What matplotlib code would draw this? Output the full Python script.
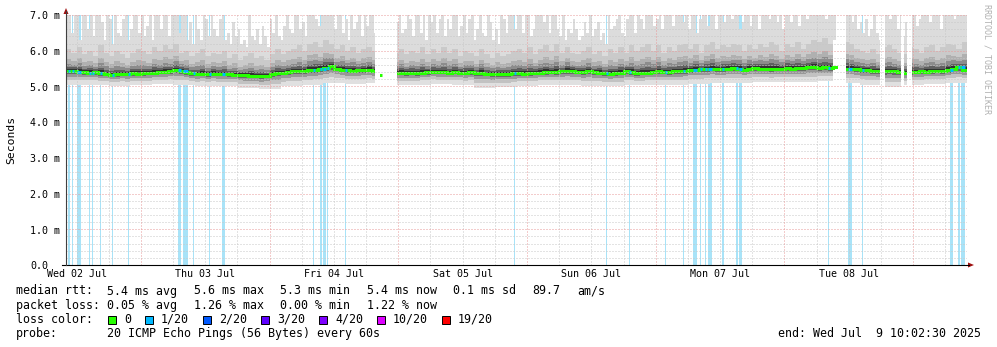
import numpy as np
import matplotlib
matplotlib.use('Agg')
import matplotlib.pyplot as plt
from matplotlib.patches import Rectangle, Polygon
from matplotlib.lines import Line2D
import matplotlib.transforms as mtrans
from datetime import datetime

# ---------------- data ----------------
start = datetime(2025, 7, 2, 10, 2, 30)
span_hours = 168

# hourly median rtt (ms); None = no data
median_rtt = [
    5.42, 5.43, 5.41, 5.40, 5.39, 5.40, 5.37, 5.35, 5.33, 5.34, 5.36, 5.35, 5.37, 5.36,
    5.37, 5.38, 5.39, 5.40, 5.40, 5.42, 5.45, 5.44, 5.40, 5.37, 5.35, 5.36, 5.34, 5.36,
    5.36, 5.35, 5.34, 5.33, 5.32, 5.31, 5.30, 5.29, 5.28, 5.30, 5.34, 5.37, 5.39, 5.40,
    5.42, 5.43, 5.43, 5.46, 5.47, 5.50, 5.52, 5.56, 5.50, 5.47, 5.45, 5.44, 5.45, 5.46,
    5.47, 5.44, 5.33, None, None, 5.38, 5.38, 5.37, 5.38, 5.37, 5.39, 5.40, 5.41, 5.40,
    5.40, 5.39, 5.41, 5.39, 5.38, 5.40, 5.37, 5.38, 5.36, 5.35, 5.34, 5.35, 5.34, 5.37,
    5.37, 5.36, 5.37, 5.38, 5.39, 5.40, 5.41, 5.40, 5.42, 5.44, 5.43, 5.41, 5.40, 5.42,
    5.40, 5.39, 5.37, 5.36, 5.37, 5.39, 5.43, 5.40, 5.37, 5.38, 5.39, 5.41, 5.42, 5.41,
    5.40, 5.42, 5.43, 5.44, 5.46, 5.47, 5.48, 5.49, 5.50, 5.48, 5.49, 5.50, 5.51, 5.50,
    5.47, 5.50, 5.51, 5.50, 5.50, 5.49, 5.50, 5.50, 5.51, 5.50, 5.51, 5.52, 5.53, 5.54,
    5.52, 5.53, 5.52, 5.53, None, 5.50, 5.50, 5.48, 5.47, 5.46, 5.44, 5.43, 5.42, 5.43,
    5.42, 5.40, 5.38, 5.40, 5.41, 5.42, 5.41, 5.43, 5.44, 5.43, 5.46, 5.50, 5.53, 5.47,
]

# bottom of smoke, 4-hour blocks (ms)
smoke_lo = [5.05, 5.05, 5.02, 5.05, 5.08, 5.05, 5.02, 5.00, 4.95, 4.92, 5.00, 5.05, 5.10, 5.08,
            5.10, 5.05, 5.05, 5.08, 5.05, 4.95, 4.98, 5.02, 5.05, 5.05, 5.02, 5.00, 5.05, 5.05,
            5.05, 5.08, 5.10, 5.10, 5.12, 5.12, 5.12, 5.15, 5.10, 5.05, 4.98, 5.05, 5.08, 5.10]
# hourly top of the dense smoke (ms)
smoke_hi = [
    6.05, 5.95, 6.10, 5.90, 6.00, 5.85, 6.15, 5.95, 5.85, 6.00, 5.90, 5.80, 5.95, 6.05,
    6.00, 5.90, 6.10, 6.00, 6.15, 6.05, 6.20, 5.95, 6.00, 5.85, 5.95, 6.05, 5.85, 5.95,
    5.90, 6.00, 5.80, 5.90, 5.75, 5.85, 5.95, 5.80, 5.85, 5.75, 5.90, 6.05, 5.90, 6.00,
    6.05, 6.15, 6.00, 6.20, 6.25, 6.10, 6.30, 6.20, 6.05, 6.15, 6.00, 6.10, 5.95, 6.05,
    6.10, 6.00, 5.90, None, None, 5.95, 6.05, 5.90, 6.00, 5.95, 6.10, 5.90, 6.05, 5.95,
    6.10, 5.95, 6.05, 5.85, 6.00, 5.95, 5.85, 6.05, 5.90, 5.80, 5.95, 5.85, 5.90, 6.00,
    6.05, 5.95, 6.10, 5.90, 6.05, 6.15, 6.00, 6.20, 5.95, 6.10, 5.95, 5.90, 6.00, 6.10,
    5.90, 6.00, 5.85, 6.05, 5.95, 6.10, 5.95, 6.15, 6.00, 6.10, 6.20, 6.00, 6.15, 5.95,
    6.10, 6.00, 6.15, 6.20, 6.05, 6.20, 5.95, 6.15, 6.25, 6.05, 6.15, 6.10, 6.20, 6.15,
    6.00, 6.15, 6.05, 6.20, 6.10, 6.25, 6.15, 6.00, 6.20, 6.10, 6.25, 6.05, 6.20, 6.30,
    6.25, 6.35, 6.20, 6.30, None, 6.25, 6.20, 6.05, 6.00, 5.95, 6.05, 5.90, 6.10, 6.15,
    6.05, 5.95, 5.90, 6.10, 6.05, 5.95, 6.10, 6.15, 6.00, 6.10, 6.20, 6.15, 6.05, 6.25,
]
# highest ping per half hour (ms)
smoke_peak = [
    7.2, 7.2, 6.5, 7.2, 7.2, 6.3, 7.2, 7.2, 6.6, 7.2, 6.4, 7.2, 7.2, 6.8,
    6.3, 7.2, 6.9, 6.2, 7.2, 6.5, 6.4, 6.9, 7.2, 6.3, 6.6, 7.2, 7.2, 6.5,
    7.2, 6.4, 6.7, 7.2, 6.3, 7.2, 7.2, 6.6, 7.2, 7.2, 6.4, 7.2, 7.2, 7.2,
    6.5, 7.2, 7.2, 6.3, 6.8, 6.2, 7.2, 6.6, 6.3, 7.2, 6.9, 6.4, 7.2, 6.6,
    6.4, 6.9, 7.2, 6.3, 6.5, 6.2, 6.8, 6.4, 6.6, 6.2, 6.3, 6.1, 7.2, 6.4,
    6.3, 6.6, 6.2, 6.7, 6.4, 6.1, 6.9, 6.5, 7.2, 6.4, 6.3, 6.7, 7.2, 6.6,
    6.5, 7.2, 7.2, 6.6, 6.8, 6.4, 7.2, 7.2, 7.2, 6.9, 6.7, 7.2, 7.2, 7.2,
    7.2, 7.2, 6.6, 7.2, 7.2, 6.5, 6.9, 6.3, 7.2, 6.6, 6.8, 7.2, 6.4, 7.2,
    6.7, 7.2, 7.2, 6.5, 6.4, 6.4, None, None, None, None, 6.6, 6.8, 7.2, 6.5,
    6.6, 7.2, 6.9, 6.4, 7.2, 7.2, 6.5, 7.2, 6.3, 7.2, 6.8, 7.2, 6.5, 6.9,
    7.2, 6.4, 6.9, 6.6, 7.2, 7.2, 6.4, 6.7, 7.2, 6.5, 6.9, 7.2, 6.3, 6.6,
    7.2, 6.5, 6.4, 7.2, 6.8, 6.3, 6.6, 6.2, 7.2, 6.9, 6.5, 7.2, 7.2, 6.6,
    7.2, 7.2, 6.5, 7.2, 7.2, 6.4, 6.6, 7.2, 7.2, 7.2, 6.8, 7.2, 6.5, 7.2,
    7.2, 6.6, 6.4, 7.2, 6.3, 6.6, 6.5, 6.9, 6.6, 6.3, 6.4, 6.8, 6.5, 7.2,
    6.4, 6.6, 6.8, 6.3, 6.5, 6.2, 7.2, 6.6, 6.7, 6.9, 7.2, 6.5, 6.4, 6.9,
    7.2, 7.2, 6.5, 7.2, 6.9, 6.6, 7.2, 7.2, 7.2, 6.7, 6.9, 7.2, 6.6, 7.2,
    7.2, 7.2, 6.7, 7.2, 7.2, 7.2, 6.8, 7.2, 6.6, 7.2, 7.2, 6.5, 6.9, 7.2,
    7.2, 6.7, 7.2, 7.2, 6.6, 7.2, 7.2, 6.8, 7.2, 7.2, 6.9, 7.2, 7.2, 6.6,
    6.8, 7.2, 7.2, 6.7, 7.2, 7.2, 6.6, 7.2, 7.2, 7.2, 6.9, 7.2, 7.2, 6.8,
    7.2, 6.6, 7.2, 7.2, 6.8, 7.2, 7.2, 6.7, 7.2, 7.2, 6.9, 7.2, 7.2, 7.2,
    7.2, 7.2, 7.2, 6.9, 7.2, 7.2, 7.2, 7.2, None, None, 7.2, 7.2, 7.2, 6.8,
    7.2, 6.6, 6.8, 6.5, 6.9, 6.4, 6.6, 7.2, 6.5, 6.3, 7.2, 7.2, 7.2, 6.9,
    7.2, 7.2, 6.6, 7.2, 6.4, 6.8, 7.2, 7.2, 7.2, 6.7, 6.9, 7.2, 7.2, 7.2,
    6.8, 7.2, 7.2, 7.2, 6.6, 7.2, 7.2, 7.2, 7.2, 6.9, 7.2, 7.2, 7.2, 7.2,
]

# periods with 1/20 packet loss (hours since start, duration in hours)
loss_start = [0.37, 1.12, 2.05, 4.29, 4.85, 6.34, 8.58, 11.56, 20.9, 21.8, 23.7, 26.7, 29.1,
              46.1, 47.4, 47.9, 48.6, 52.0, 83.5, 100.7, 105.0, 111.7, 115.1, 117.0, 118.3,
              119.2, 119.7, 122.3, 124.9, 125.5, 142.1, 145.8, 148.4, 164.8, 166.3, 166.9]
loss_len = [0.37, 0.19, 0.75, 0.19, 0.19, 0.19, 0.19, 0.19, 0.5, 0.9, 0.19, 0.19, 0.5,
            0.19, 0.35, 0.5, 0.3, 0.19, 0.19, 0.19, 0.19, 0.19, 0.19, 0.7, 0.19,
            0.19, 0.8, 0.3, 0.4, 0.5, 0.19, 0.8, 0.19, 0.6, 0.4, 0.7]

# periods without data (hours since start)
gap_start = [57.6, 59.3, 143.9, 151.8, 155.7, 156.8]
gap_end = [58.5, 61.7, 145.4, 152.7, 156.2, 157.7]

y_ticks = [0, 1, 2, 3, 4, 5, 6, 7]
y_tick_labels = ["0.0", "1.0 m", "2.0 m", "3.0 m", "4.0 m", "5.0 m", "6.0 m", "7.0 m"]

rtt_fields = ["median rtt:", "5.4 ms avg", "5.6 ms max", "5.3 ms min", "5.4 ms now",
              "0.1 ms sd", "89.7", "am/s"]
loss_fields = ["packet loss:", "0.05 % avg", "1.26 % max", "0.00 % min", "1.22 % now"]
probe_fields = ["probe:", "20 ICMP Echo Pings (56 Bytes) every 60s"]
end_text = "end: Wed Jul  9 10:02:30 2025"
loss_labels = ["0", "1/20", "2/20", "3/20", "4/20", "10/20", "19/20"]
loss_colors = ["#26ff00", "#00b8ff", "#0059ff", "#5e00ff", "#7e00ff", "#dd00ff", "#ff0000"]

# ---------------- figure ----------------
W, H = 997, 347
fig = plt.figure(figsize=(W / 100, H / 100), dpi=100)
fig.patch.set_facecolor('white')
MONO = 'DejaVu Sans Mono'


def fx(px):
    return px / W


def fy(py):
    return 1 - py / H


ax = fig.add_axes([fx(66), fy(265), 901 / W, 250 / H])
ax.set_xlim(0, span_hours)
ax.set_ylim(0, 7)
ax.axis('off')


def arr(v):
    return np.array([np.nan if a is None else a for a in v], dtype=float)


x_edges = np.arange(span_hours + 1)
x_half = np.arange(2 * span_hours + 1) / 2.0
med = arr(median_rtt)
hi = arr(smoke_hi)
peak = arr(smoke_peak)
lo = np.repeat(np.array(smoke_lo), 4)
lo = np.where(np.isnan(med), np.nan, lo)


def ext(a):
    return np.append(a, a[-1])


# loss background stripes
for s, l in zip(loss_start, loss_len):
    ax.axvspan(s, s + l, color='#a8e3f8', lw=0, zorder=1)

# smoke: sparse upper pings
ax.fill_between(x_half, ext(np.repeat(hi, 2)), ext(peak), step='post', color='#dcdcdc',
                lw=0, zorder=2)
# upper gradient
up_f = [0.0, 0.1, 0.2, 0.35, 0.55, 1.0]
up_c = ['#303030', '#606060', '#8c8c8c', '#b0b0b0', '#cacaca']
for i in range(len(up_c)):
    y0 = med + (hi - med) * up_f[i]
    y1 = med + (hi - med) * up_f[i + 1]
    ax.fill_between(x_edges, ext(y0), ext(y1), step='post', color=up_c[i], lw=0, zorder=2.1)
# lower gradient
lo_f = [0.0, 0.35, 0.6, 0.8, 0.92, 1.0]
lo_c = ['#e0e0e0', '#c2c2c2', '#989898', '#686868', '#3a3a3a']
for i in range(len(lo_c)):
    y0 = lo + (med - lo) * lo_f[i]
    y1 = lo + (med - lo) * lo_f[i + 1]
    ax.fill_between(x_edges, ext(y0), ext(y1), step='post', color=lo_c[i], lw=0, zorder=2.1)

# median line (green = no loss)
ax.step(x_edges, ext(med), where='post', color='#26ff00', lw=2.2, zorder=4,
        solid_capstyle='butt', solid_joinstyle='miter')
# median coloured with loss
for s, l in zip(loss_start, loss_len):
    h = int(s)
    if h < len(med) and not np.isnan(med[h]):
        ax.plot([s, s + max(l, 0.35)], [med[h], med[h]], color='#00b8ff', lw=2.2,
                zorder=4.5, solid_capstyle='butt')

# no-data gaps
for gs, ge in zip(gap_start, gap_end):
    ax.axvspan(gs, ge, color='white', lw=0, zorder=4.8)

# grid
dot = (0, (1, 2))
for v in np.arange(0.2, 7.01, 0.2):
    if abs(v - round(v)) < 1e-6:
        continue
    ax.axhline(v, color='#c8c8c8', lw=0.72, ls=dot, zorder=5)
for v in y_ticks[1:]:
    ax.axhline(v, color='#e89a9a', lw=0.72, ls=dot, zorder=5.1)

first_midnight = datetime(2025, 7, 3, 0, 0, 0)
off0 = (first_midnight - start).total_seconds() / 3600.0
t = off0 - 24
while t < span_hours:
    if 0 < t < span_hours:
        ax.axvline(t, color='#e89a9a', lw=0.72, ls=dot, zorder=5.1)
    for k in (6, 12, 18):
        tt = t + k
        if 0 < tt < span_hours:
            ax.axvline(tt, color='#c8c8c8', lw=0.72, ls=dot, zorder=5)
    t += 24

# axes lines and arrows
fig.add_artist(Line2D([fx(62), fx(969)], [fy(265), fy(265)], color='black', lw=0.8))
fig.add_artist(Line2D([fx(66), fx(66)], [fy(265), fy(11)], color='#404040', lw=0.8))
fig.add_artist(Polygon([[fx(63.5), fy(14)], [fx(68.5), fy(14)], [fx(66), fy(8)]],
                       closed=True, color='#a01010', lw=0))
fig.add_artist(Polygon([[fx(968), fy(262.5)], [fx(968), fy(267.5)], [fx(974), fy(265)]],
                       closed=True, color='#a01010', lw=0))

# y tick labels
ytr = mtrans.blended_transform_factory(fig.transFigure, ax.transData)
for v, lab in zip(y_ticks, y_tick_labels):
    fig.text(fx(30), v - 0.035, lab, transform=ytr, ha='left', va='center',
             fontsize=7.2, family=MONO, color='black')

# x tick labels (centred at noon)
xtr = mtrans.blended_transform_factory(ax.transData, fig.transFigure)
for d in range(7):
    noon = datetime(2025, 7, 2 + d, 12, 0, 0)
    h = (noon - start).total_seconds() / 3600.0
    fig.text(h, fy(274), noon.strftime('%a %d %b'), transform=xtr, ha='center',
             va='center', fontsize=7.2, family=MONO, color='black')

# axis title and watermark
fig.text(fx(11), fy(140), 'Seconds', rotation=90, ha='center', va='center',
         fontsize=8.2, family=MONO, color='black')
fig.text(fx(987), fy(4), 'RRDTOOL / TOBI OETIKER', rotation=270, ha='center', va='top',
         fontsize=6.0, family=MONO, color='#b0b0b0')

# legend
fs = 8.4
rtt_x = [16, 107, 193.5, 280, 366.5, 453, 532.5, 577]
for s, px in zip(rtt_fields, rtt_x):
    fig.text(fx(px), fy(291), s, ha='left', va='center', fontsize=fs, family=MONO)
loss_x = [16, 107, 193.5, 280, 366.5]
for s, px in zip(loss_fields, loss_x):
    fig.text(fx(px), fy(305.5), s, ha='left', va='center', fontsize=fs, family=MONO)
fig.text(fx(16), fy(319.5), 'loss color:', ha='left', va='center', fontsize=fs, family=MONO)
bx = 108
for lab, col in zip(loss_labels, loss_colors):
    fig.add_artist(Rectangle((fx(bx), fy(323.5)), 8 / W, 8 / H, facecolor=col,
                             edgecolor='black', lw=0.7))
    fig.text(fx(bx + 16), fy(319.5), lab, ha='left', va='center', fontsize=fs, family=MONO)
    bx += 16 + len(lab) * 7 + 14
for s, px in zip(probe_fields, [16, 107]):
    fig.text(fx(px), fy(333.5), s, ha='left', va='center', fontsize=fs, family=MONO)
fig.text(fx(981), fy(333.5), end_text, ha='right', va='center', fontsize=fs, family=MONO)

fig.savefig('out.png', dpi=100, facecolor='white')
